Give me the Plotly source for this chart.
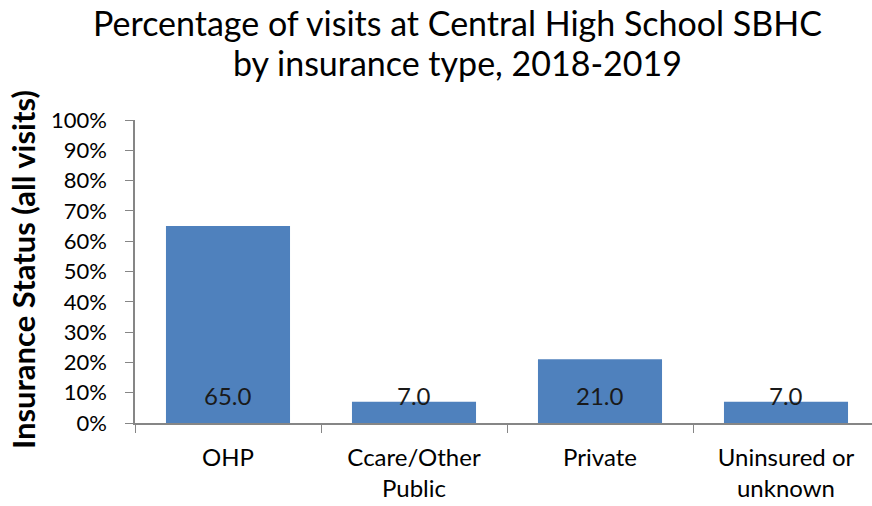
import plotly.graph_objects as go

# --- data ---
categories = ["OHP", "Ccare/Other<br>Public", "Private", "Uninsured or<br>unknown"]
percent = [65.0, 7.0, 21.0, 7.0]
y_ticks = [0, 10, 20, 30, 40, 50, 60, 70, 80, 90, 100]
y_tick_labels = [f"{v}%" for v in y_ticks]
title_lines = ["Percentage of visits at Central High School SBHC",
               "by insurance type, 2018-2019"]

FONT = "Lato, 'Open Sans', sans-serif"
BAR = "#4F81BD"
AXIS = "#868686"

fig = go.Figure()
fig.add_trace(go.Bar(
    x=categories, y=percent,
    marker=dict(color=BAR, line=dict(width=0)),
    width=0.667,
    hoverinfo="x+y",
))

# data labels at the base of each bar (Excel "inside base")
for c, v in zip(categories, percent):
    fig.add_annotation(
        x=c, y=0, text=f"{v:.1f}", showarrow=False,
        yanchor="bottom", yshift=11,
        font=dict(family=FONT, size=24, color="#1a1a1a"),
    )

# two-line title, placed line by line
for line, ypos in zip(title_lines, [1.323, 1.191]):
    fig.add_annotation(
        xref="paper", yref="paper", x=0.438, y=ypos,
        xanchor="center", yanchor="middle", showarrow=False,
        text=line, font=dict(family=FONT, size=34, color="#000000"),
    )

# y axis title
fig.add_annotation(
    xref="paper", yref="paper", x=-0.152, y=0.508,
    xanchor="center", yanchor="middle", showarrow=False, textangle=-90,
    text="<b>Insurance Status (all visits)</b>",
    font=dict(family=FONT, size=31, color="#000000"),
)

fig.update_layout(
    width=872, height=506,
    margin=dict(l=135, r=0, t=120, b=83),
    paper_bgcolor="white", plot_bgcolor="white",
    showlegend=False,
    bargap=0.333,
    font=dict(family=FONT, color="#000000"),
)

fig.update_xaxes(
    range=[-0.5, 3.5 - 7 / 186],
    showline=True, linecolor=AXIS, linewidth=1.5,
    ticks="outside", tickson="boundaries", ticklen=8, tickcolor=AXIS,
    tickfont=dict(family=FONT, size=24, color="#000000"),
    ticklabelstandoff=12,
    showgrid=False, zeroline=False,
)
fig.update_yaxes(
    range=[0, 100],
    tickvals=y_ticks, ticktext=y_tick_labels,
    showline=True, linecolor=AXIS, linewidth=1.5,
    ticks="outside", ticklen=8, tickcolor=AXIS,
    tickfont=dict(family=FONT, size=22, color="#000000"),
    ticklabelstandoff=14,
    showgrid=False, zeroline=False,
)

fig.write_html("out.html", config={"displayModeBar": False},
               post_script="document.body.style.margin='0';")
